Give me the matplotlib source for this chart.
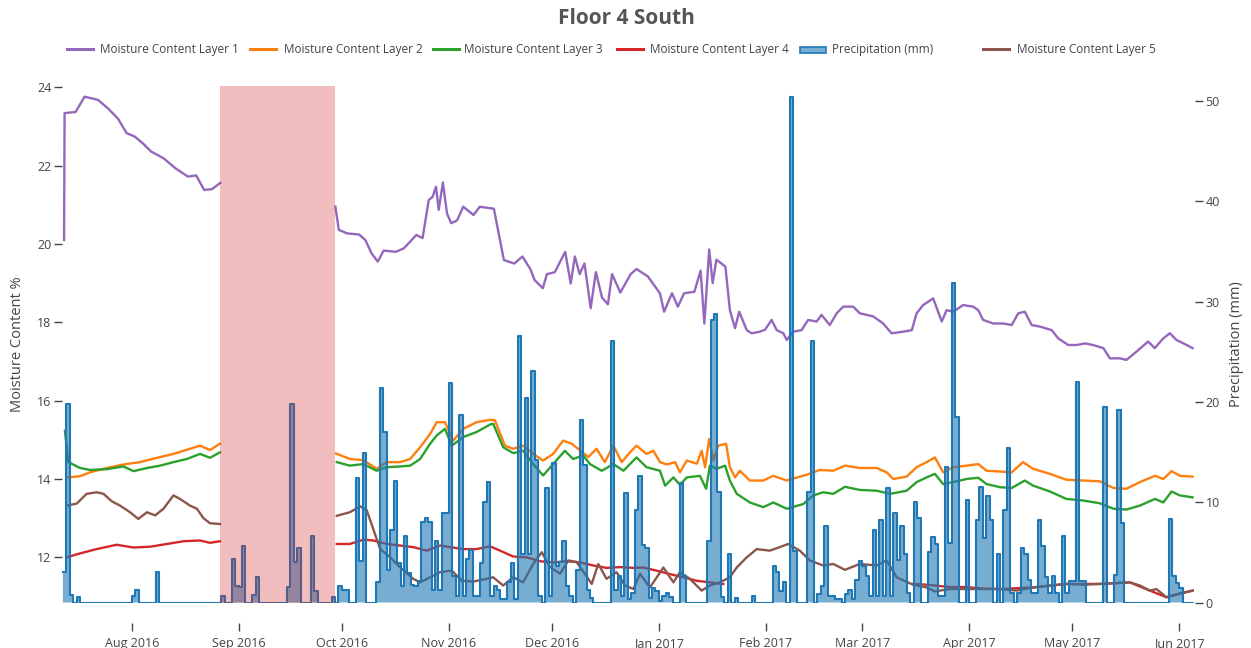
import numpy as np
import pandas as pd
import matplotlib
matplotlib.use("Agg")
import matplotlib.pyplot as plt
import matplotlib.dates as mdates
from matplotlib.lines import Line2D
from matplotlib.patches import Rectangle

plt.rcParams['font.family'] = ['Open Sans', 'DejaVu Sans']

nan = np.nan
start = pd.Timestamp("2016-07-12")

# daily precipitation (mm), one value per day starting 2016-07-12
precip_jul = [3.0, 19.8, 0.7, 0, 0.5, 0, 0, 0, 0, 0, 0, 0, 0, 0, 0, 0, 0, 0, 0, 0]
precip_aug = [0.6, 1.2, 0, 0, 0, 0, 0, 3.0, 0, 0, 0, 0, 0, 0, 0, 0, 0, 0, 0, 0,
              0, 0, 0, 0, 0, 0, 0.6, 0, 0, 4.3, 1.6]
precip_sep = [1.5, 5.6, 0, 0, 0.7, 2.5, 0, 0, 0, 0, 0, 0, 0, 0, 1.5, 19.8, 4.0, 5.4, 0, 0,
              0, 6.6, 1.1, 0, 0, 0, 0, 0.5, 0, 1.6]
precip_oct = [1.2, 1.2, 0, 0, 12.4, 4.1, 14.9, 0, 0, 0, 2.0, 21.4, 17.0, 3.2, 7.2, 12.1,
              3.9, 1.6, 6.6, 2.9, 1.7, 1.6, 2.1, 8.0, 8.4, 8.0, 1.2, 6.1, 1.2, 8.9, 8.9]
precip_nov = [21.9, 2.6, 0.6, 18.7, 0.6, 4.3, 5.2, 0.6, 0.6, 3.9, 10.0, 12.0, 0.6, 1.6, 1.2,
              0.3, 0.3, 2.0, 3.9, 0.3, 26.6, 4.8, 20.4, 4.8, 23.1, 14.2, 0.6, 0, 11.4, 0.6]
precip_dec = [13.9, 3.6, 4.0, 6.1, 1.6, 0.6, 0, 3.2, 18.2, 13.7, 1.2, 0.4, 0, 0, 0, 0, 0,
              26.1, 1.2, 2.6, 0.6, 10.9, 0.3, 0.9, 9.2, 12.6, 5.7, 5.4, 0.4, 1.4, 1.1]
precip_jan = [0.1, 0.6, 0.9, 0.5, 0, 0, 11.9, 2.6, 0, 0, 0, 0, 0, 0, 6.1, 28.2, 28.8, 11.0,
              0.5, 0, 4.8, 0, 0.4, 0, 0, 0, 0, 0.6, 0, 0, 0]
precip_feb = [0, 0, 3.6, 3.0, 1.1, 2.0, 0, 50.4, 5.1, 0, 0, 0, 11.0, 26.1, 0, 0.8, 1.6, 7.6,
              0.6, 0.6, 0.3, 0.3, 0, 0.8, 1.2, 0.3, 2.2, 4.1]
precip_mar = [3.6, 2.6, 0.6, 7.2, 0.6, 8.2, 0.6, 11.4, 0.6, 8.9, 4.2, 7.6, 4.8, 0.9, 0, 10.0,
              8.4, 0, 0, 5.0, 6.5, 5.8, 0.6, 0.6, 13.5, 5.9, 31.9, 18.5, 0, 0, 10.2]
precip_apr = [0, 0, 8.2, 11.5, 6.4, 10.6, 8.2, 0, 4.8, 0, 9.2, 15.4, 0.9, 0, 0.9, 5.4, 4.8,
              2.2, 0.9, 0.9, 8.2, 5.6, 2.5, 0.9, 2.6, 0.9, 0, 6.6, 0.9, 2.1]
precip_may = [2.1, 22.0, 2.1, 2.1, 0, 0, 0, 0, 0, 19.5, 0, 0, 2.7, 19.2, 7.9, 0, 0, 0, 0, 0,
              0, 0, 0, 0, 0, 0, 0, 0, 8.3, 2.6, 1.9]
precip_jun = [1.4, 0, 0, 0]

# moisture content (%), position given in days since 2016-07-12
l1_day = [0.35, 0.5, 3.7, 6.3, 10.2, 13.1, 16.0, 18.5, 20.9, 23.2,
          25.6, 29.2, 32.7, 36.3, 38.7, 41.0, 43.3, 45.7, 60, 79.1,
          80.1, 82.5, 86.0, 87.8, 89.6, 91.4, 93.1, 96.7, 99.0, 102.6,
          104.4, 106.2, 107.3, 108.3, 109.1, 110.3, 111.5, 112.7, 114.4, 116.2,
          119.2, 121.0, 125.1, 126.5, 128.0, 131.0, 133.4, 135.8, 136.9, 139.3,
          140.5, 142.8, 145.8, 147.4, 148.6, 150.0, 151.4, 153.2, 154.7, 156.5,
          158.2, 159.4, 161.8, 164.8, 166.5, 169.8, 173.3, 174.5, 176.8, 178.5,
          180.3, 183.3, 185.1, 186.2, 187.6, 188.6, 189.7, 192.3, 193.6, 195.1,
          196.3, 198.5, 199.9, 202.3, 203.8, 205.7, 207.2, 209.1, 210.1, 212.0,
          214.4, 216.3, 218.8, 220.2, 222.6, 224.6, 226.5, 229.4, 231.3, 235.2,
          238.1, 240.5, 243.9, 246.4, 247.8, 249.7, 252.6, 255.1, 256.5, 258.4,
          261.3, 264.2, 265.7, 267.1, 270.0, 272.9, 275.4, 277.3, 279.2, 281.2,
          283.6, 287.0, 288.9, 291.8, 294.2, 296.7, 299.0, 302.0, 303.9, 306.8,
          308.7, 311.6, 315.0, 316.9, 319.4, 321.3, 323.2, 326.2, 327.9]
l1_val = [20.1, 23.34, 23.37, 23.76, 23.68, 23.46, 23.2, 22.83, 22.74, 22.57,
          22.36, 22.19, 21.93, 21.72, 21.75, 21.38, 21.4, 21.56, nan, 20.95,
          20.36, 20.27, 20.24, 20.1, 19.76, 19.55, 19.83, 19.8, 19.89, 20.23,
          20.15, 21.12, 21.2, 21.46, 20.87, 21.57, 20.78, 20.53, 20.6, 20.95,
          20.74, 20.95, 20.9, 20.27, 19.59, 19.5, 19.68, 19.34, 19.08, 18.87,
          19.23, 19.28, 19.8, 18.99, 19.68, 19.23, 19.5, 18.36, 19.28, 18.63,
          18.46, 19.23, 18.76, 19.23, 19.36, 19.17, 18.74, 18.27, 18.74, 18.4,
          18.74, 18.78, 19.32, 17.97, 19.86, 19.0, 19.6, 19.42, 18.31, 17.85,
          18.27, 17.8, 17.72, 17.76, 17.81, 18.06, 17.8, 17.72, 17.55, 17.76,
          17.8, 18.06, 18.02, 18.19, 17.93, 18.23, 18.4, 18.4, 18.23, 18.15,
          17.97, 17.72, 17.76, 17.8, 18.23, 18.44, 18.61, 18.02, 18.31, 18.27,
          18.44, 18.4, 18.31, 18.06, 17.97, 17.97, 17.93, 18.23, 18.27, 17.93,
          17.89, 17.8, 17.59, 17.42, 17.42, 17.46, 17.42, 17.34, 17.08, 17.08,
          17.04, 17.25, 17.51, 17.34, 17.59, 17.72, 17.55, 17.42, 17.34]

l2_day = [1.6, 5.0, 7.9, 12.7, 17.6, 22.4, 27.3, 32.1, 36.9, 39.8,
          42.7, 45.6, 60, 79.3, 83.3, 87.2, 91.1, 94.0, 97.9, 100.8,
          103.7, 106.6, 108.5, 110.9, 113.3, 116.2, 120.1, 124.0, 125.4, 128.3,
          130.7, 133.6, 136.5, 139.4, 142.3, 145.2, 147.7, 150.1, 152.5, 154.9,
          157.3, 159.8, 162.2, 164.6, 166.5, 169.4, 171.4, 173.3, 175.3, 177.7,
          179.1, 181.1, 184.0, 185.4, 186.4, 187.6, 188.8, 190.2, 192.5, 193.6,
          195.1, 196.5, 199.4, 203.3, 206.2, 210.1, 215.9, 219.7, 223.6, 227.0,
          231.3, 236.2, 239.1, 241.0, 244.9, 247.8, 250.7, 253.1, 255.5, 258.4,
          262.3, 265.7, 268.1, 272.0, 275.4, 278.7, 281.6, 286.5, 291.3, 296.1,
          301.0, 304.9, 308.7, 312.6, 317.0, 319.4, 321.8, 324.2, 327.9]
l2_val = [14.04, 14.07, 14.17, 14.28, 14.37, 14.43, 14.54, 14.64, 14.77, 14.85,
          14.74, 14.9, nan, 14.65, 14.51, 14.48, 14.26, 14.43, 14.43, 14.51,
          14.81, 15.15, 15.45, 15.45, 14.98, 15.28, 15.45, 15.51, 15.5, 14.85,
          14.77, 14.85, 14.64, 14.47, 14.64, 14.98, 14.9, 14.73, 14.56, 14.77,
          14.43, 14.85, 14.43, 14.68, 14.85, 14.64, 14.72, 14.43, 14.37, 14.43,
          14.17, 14.47, 14.39, 14.72, 14.3, 15.02, 14.47, 14.85, 14.9, 14.3,
          14.04, 14.21, 13.96, 13.96, 14.08, 13.96, 14.11, 14.23, 14.21, 14.34,
          14.28, 14.28, 14.17, 14.0, 14.06, 14.3, 14.43, 14.55, 14.17, 14.3,
          14.34, 14.38, 14.21, 14.19, 14.17, 14.43, 14.26, 14.13, 13.98, 13.96,
          13.94, 13.77, 13.75, 13.92, 14.08, 14.0, 14.2, 14.08, 14.06]

l3_day = [0.6, 1.6, 5.0, 7.9, 12.7, 17.6, 20.5, 24.4, 28.2, 32.1,
          36.0, 39.8, 42.7, 45.6, 60, 79.5, 83.3, 87.2, 91.1, 94.0,
          97.9, 100.8, 103.7, 106.6, 108.5, 110.9, 112.9, 116.2, 120.1, 124.0,
          124.9, 127.8, 130.7, 133.6, 136.5, 139.4, 142.3, 145.7, 148.1, 151.0,
          153.0, 156.4, 159.8, 162.7, 166.5, 169.4, 173.3, 174.8, 177.2, 179.1,
          181.1, 184.9, 186.7, 187.8, 189.8, 192.2, 193.6, 195.6, 199.4, 203.3,
          206.2, 210.1, 214.9, 217.8, 220.7, 223.6, 227.0, 231.3, 236.2, 240.1,
          244.9, 247.8, 250.7, 253.1, 255.5, 258.4, 262.3, 265.7, 268.1, 272.0,
          275.4, 279.2, 281.6, 286.5, 291.3, 296.1, 301.0, 304.9, 308.7, 312.6,
          317.0, 319.4, 321.8, 324.2, 327.9]
l3_val = [15.23, 14.43, 14.28, 14.23, 14.25, 14.32, 14.2, 14.28, 14.34, 14.43,
          14.51, 14.64, 14.54, 14.68, nan, 14.43, 14.34, 14.38, 14.21, 14.3,
          14.32, 14.34, 14.51, 14.9, 15.11, 15.28, 14.85, 15.07, 15.2, 15.39,
          15.41, 14.81, 14.66, 14.72, 14.38, 14.09, 14.38, 14.72, 14.51, 14.6,
          14.38, 14.21, 14.38, 14.21, 14.55, 14.3, 14.21, 13.83, 14.04, 13.85,
          14.04, 14.08, 13.75, 14.34, 14.26, 14.34, 13.96, 13.62, 13.4, 13.28,
          13.4, 13.24, 13.36, 13.58, 13.66, 13.62, 13.8, 13.72, 13.7, 13.62,
          13.7, 13.92, 14.04, 14.13, 13.87, 13.92, 14.0, 14.03, 13.87, 13.79,
          13.77, 13.96, 13.83, 13.68, 13.49, 13.45, 13.38, 13.24, 13.22, 13.32,
          13.49, 13.4, 13.68, 13.58, 13.53]

l4_day = [1.1, 5.0, 9.8, 15.6, 20.5, 25.3, 30.2, 35.0, 39.8, 42.7,
          45.6, 60, 79.5, 83.3, 87.2, 90.1, 94.0, 97.9, 101.7, 105.6,
          109.5, 112.4, 116.2, 120.1, 124.0, 126.9, 130.7, 134.6, 138.5, 142.3,
          146.2, 150.1, 154.0, 157.8, 161.7, 165.6, 168.5, 172.3, 176.2, 180.1,
          184.0, 187.8, 191.7, 220, 246.7, 250.7, 257.5, 262.3, 267.0, 272.0,
          281.6, 291.3, 301.0, 309.7, 315.5, 320.3, 327.9]
l4_val = [12.0, 12.1, 12.21, 12.32, 12.25, 12.27, 12.34, 12.41, 12.43, 12.37,
          12.41, nan, 12.34, 12.34, 12.45, 12.43, 12.34, 12.3, 12.26, 12.17,
          12.3, 12.26, 12.21, 12.21, 12.28, 12.17, 12.02, 12.0, 11.9, 11.87,
          11.9, 11.87, 11.79, 11.73, 11.75, 11.73, 11.74, 11.66, 11.57, 11.49,
          11.4, 11.36, 11.32, nan, 11.32, 11.3, 11.24, 11.24, 11.2, 11.19,
          11.23, 11.32, 11.32, 11.36, 11.15, 10.98, 11.15]

l5_day = [1.1, 4.0, 6.9, 9.8, 11.8, 14.2, 16.6, 19.5, 21.9, 24.4,
          26.8, 29.2, 32.1, 34.0, 36.9, 38.9, 40.8, 42.7, 45.6, 60,
          79.5, 83.3, 86.3, 88.2, 90.1, 92.1, 95.0, 97.9, 101.7, 103.7,
          106.6, 109.5, 112.9, 115.8, 119.1, 123.0, 124.9, 127.8, 130.7, 133.6,
          136.5, 139.0, 141.4, 144.3, 146.7, 149.1, 151.5, 153.5, 155.4, 157.8,
          160.7, 163.2, 165.6, 167.5, 170.4, 174.3, 177.2, 179.1, 182.0, 185.4,
          187.8, 190.7, 193.6, 195.6, 198.5, 201.4, 205.2, 208.1, 210.5, 213.9,
          216.8, 220.7, 223.6, 227.0, 231.3, 236.2, 239.1, 242.0, 246.8, 250.7,
          253.1, 257.5, 262.3, 267.1, 272.0, 276.8, 281.6, 286.5, 291.3, 296.1,
          301.0, 305.8, 309.7, 312.6, 315.5, 317.4, 320.3, 321.8, 324.2, 327.9]
l5_val = [13.32, 13.37, 13.62, 13.66, 13.62, 13.43, 13.32, 13.15, 12.98, 13.15,
          13.07, 13.24, 13.58, 13.49, 13.32, 13.24, 13.0, 12.87, 12.85, nan,
          13.06, 13.15, 13.3, 13.2, 12.72, 12.21, 12.0, 11.74, 11.45, 11.36,
          11.49, 11.62, 11.66, 11.4, 11.38, 11.45, 11.49, 11.28, 11.49, 11.36,
          11.83, 12.13, 11.75, 11.58, 11.92, 11.88, 11.58, 11.32, 11.83, 11.45,
          11.62, 11.28, 11.19, 11.58, 11.23, 11.74, 11.36, 11.62, 11.45, 11.15,
          11.28, 11.36, 11.49, 11.74, 12.0, 12.21, 12.17, 12.26, 12.34, 12.17,
          11.92, 11.79, 11.83, 11.68, 11.83, 11.79, 11.92, 11.49, 11.3, 11.23,
          11.13, 11.19, 11.19, 11.19, 11.19, 11.15, 11.23, 11.28, 11.32, 11.3,
          11.32, 11.34, 11.36, 11.28, 11.15, 11.19, 10.98, 11.02, 11.08, 11.15]

gap_start = "2016-08-26 18:00"
gap_end = "2016-09-29 03:00"

series = [
    ("Moisture Content Layer 1", l1_day, l1_val, "#9467bd"),
    ("Moisture Content Layer 2", l2_day, l2_val, "#ff7f0e"),
    ("Moisture Content Layer 3", l3_day, l3_val, "#2ca02c"),
    ("Moisture Content Layer 4", l4_day, l4_val, "#d62728"),
    ("Moisture Content Layer 5", l5_day, l5_val, "#8c564b"),
]

precip = (precip_jul + precip_aug + precip_sep + precip_oct + precip_nov + precip_dec +
          precip_jan + precip_feb + precip_mar + precip_apr + precip_may + precip_jun)
p_dates = start + pd.to_timedelta(np.arange(len(precip) + 1), unit="D")
p_vals = np.array(precip + [precip[-1]])

W, H = 1251, 648
fig = plt.figure(figsize=(W / 100, H / 100), dpi=100)
ax = fig.add_axes([62 / W, 1 - 602.5 / H, (1195 - 62) / W, (602.5 - 86) / H])
ax2 = ax.twinx()

for name, d, v, c in series:
    dates = start + pd.to_timedelta(d, unit="D")
    ax.plot(dates, v, color=c, lw=1.7, solid_joinstyle="round")

ax2.fill_between(p_dates, p_vals, step="post", facecolor="#1f77b4", alpha=0.6, lw=0)
ax2.step(p_dates, p_vals, where="post", color="#1f77b4", lw=1.5)
ax2.axvspan(pd.Timestamp(gap_start), pd.Timestamp(gap_end), color="#d62728",
            alpha=0.3, lw=0, zorder=10)

ax.set_xlim(start - pd.Timedelta(hours=6), start + pd.Timedelta(days=328.6))
ax.set_ylim(10.846, 24.033)
ax2.set_ylim(0, 51.5)
ax.set_yticks(range(12, 25, 2))
ax2.set_yticks(range(0, 51, 10))
ax.xaxis.set_major_locator(mdates.MonthLocator())
ax.xaxis.set_major_formatter(mdates.DateFormatter("%b %Y"))

txt = "#444444"
for a in (ax, ax2):
    for s in a.spines.values():
        s.set_visible(False)
ax.spines["bottom"].set_position(("outward", 15))
ax.tick_params(axis="x", length=6, width=1, color=txt, labelcolor=txt, labelsize=9, pad=4)
ax.tick_params(axis="y", length=6, width=1, color=txt, labelcolor=txt, labelsize=9, pad=1.5)
ax2.tick_params(axis="y", length=6, width=1, color=txt, labelcolor=txt, labelsize=9, pad=1.5)

fig.text(626 / W, 1 - 18 / H, "Floor 4 South", ha="center", va="center",
         fontsize=15, fontweight="bold", color="#555555")
fig.text(18 / W, 1 - 344 / H, "Moisture Content %", rotation=90, ha="center",
         va="center", fontsize=10.5, color=txt)
fig.text(1237 / W, 1 - 344 / H, "Precipitation (mm)", rotation=90, ha="center",
         va="center", fontsize=10.5, color=txt)

# legend drawn by hand to follow the original spacing
ly = 1 - 49 / H
leg = [(67, 93, 100, series[0][0], series[0][3]),
       (250, 276, 284, series[1][0], series[1][3]),
       (433, 459, 464, series[2][0], series[2][3]),
       (617, 643, 650, series[3][0], series[3][3]),
       (800, 826, 832, "Precipitation (mm)", None),
       (983, 1009, 1017, series[4][0], series[4][3])]
for x0, x1, xt, label, c in leg:
    if c is None:
        fig.add_artist(Rectangle((x0 / W, 1 - 53 / H), (x1 - x0) / W, 6 / H,
                                 transform=fig.transFigure, facecolor=(0.12, 0.47, 0.71, 0.6),
                                 edgecolor="#1f77b4", lw=1.2))
    else:
        fig.add_artist(Line2D([x0 / W, x1 / W], [ly, ly], transform=fig.transFigure,
                              color=c, lw=2.2))
    fig.text(xt / W, ly, label, ha="left", va="center", fontsize=8.5, color=txt)

fig.savefig("out.png", dpi=100)
